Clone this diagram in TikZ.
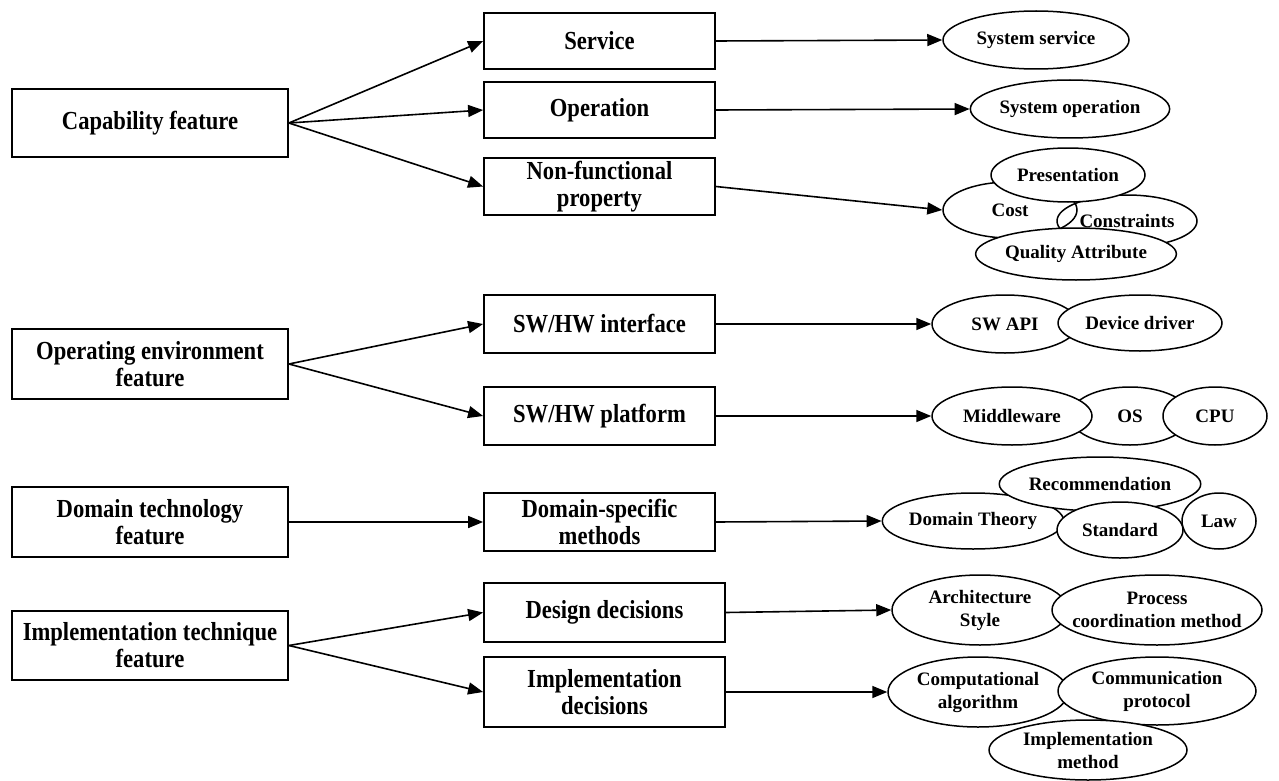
\documentclass[tikz,border=0pt]{standalone}
\usepackage{fontspec}
\setmainfont{Liberation Serif}
\newfontfamily\narrowserif[FakeStretch=0.87]{Liberation Serif}
\usetikzlibrary{arrows.meta,shapes.geometric}

\begin{document}
\begin{tikzpicture}[x=1pt,y=-1pt,
  featbox/.style={draw, line width=1.8pt, rectangle, inner sep=0pt, align=center,
    font=\narrowserif\bfseries\fontsize{26}{27}\selectfont},
  leftbox/.style={featbox, minimum width=276pt},
  midbox/.style={featbox, minimum width=231pt},
  widebox/.style={featbox, minimum width=241pt},
  ell/.style={draw, ellipse, line width=1.5pt, fill=white, inner sep=0pt, align=center,
    font=\bfseries\fontsize{19}{23}\selectfont},
  ellopen/.style={ell, fill=none},
  conn/.style={-{Triangle[length=15pt,width=12pt]}, line width=1.6pt}
]
\useasboundingbox (0,0) rectangle (1279,781);

% feature categories
\node[leftbox, minimum height=68pt] (cap) at (150,123) {Capability feature};
\node[leftbox, minimum height=70pt] (ope) at (150,364) {Operating environment\\feature};
\node[leftbox, minimum height=70pt] (dom) at (150,522) {Domain technology\\feature};
\node[leftbox, minimum height=69pt] (imp) at (150,645.5) {Implementation technique\\feature};

% sub-categories
\node[midbox, minimum height=56pt] (svc) at (599.5,41) {Service};
\node[midbox, minimum height=56pt] (opn) at (599.5,110) {Operation};
\node[midbox, minimum height=57pt] (nfp) at (599.5,186.5) {Non-functional\\property};
\node[midbox, minimum height=58pt] (swi) at (599.5,324) {SW/HW interface};
\node[midbox, minimum height=58pt] (swp) at (599.5,416) {SW/HW platform};
\node[midbox, minimum height=58pt] (dsm) at (599.5,522) {Domain-specific\\methods};
\node[widebox, minimum height=59pt] (dd) at (604.5,612.5) {Design decisions};
\node[widebox, minimum height=70pt] (idc) at (604.5,692) {Implementation\\decisions};

% examples
\node[ell, minimum width=186pt, minimum height=58pt] (sysserv) at (1036,40) {System service};
\node[ell, minimum width=186pt, minimum height=58pt] (sysop) at (1070,109) {System operation};

\node[ellopen, minimum width=134pt, minimum height=56pt] (cost) at (1010,210) {Cost};
\node[ellopen, minimum width=140pt, minimum height=52pt] (constr) at (1127,221) {Constraints};
\node[ell, minimum width=154pt, minimum height=54pt] (pres) at (1068,175) {Presentation};
\node[ell, minimum width=172pt, minimum height=52pt] (qual) at (1076,254) {Quality Attribute};

\node[ell, minimum width=146pt, minimum height=58pt] (swapi) at (1005,324) {SW API};
\node[ell, minimum width=164pt, minimum height=56pt] (devdrv) at (1140,323) {Device driver};

\node[ell, minimum width=120pt, minimum height=58pt] (os) at (1130,416) {OS};
\node[ell, minimum width=160pt, minimum height=58pt] (mw) at (1012,416) {Middleware};
\node[ell, minimum width=104pt, minimum height=58pt] (cpu) at (1215,416) {CPU};

\node[ell, minimum width=74pt, minimum height=56pt] (law) at (1219,521) {Law};
\node[ell, minimum width=176pt, minimum height=56pt] (dtheory) at (973,521) {Domain Theory};
\node[ell, minimum width=194pt, minimum height=54pt] (recom) at (1100,484) {Recommendation};
\node[ell, minimum width=126pt, minimum height=56pt] (std) at (1120,530) {Standard};

\node[ell, minimum width=176pt, minimum height=70pt] (arch) at (980,610) {Architecture\\Style};
% the second line runs almost to the rim, so the shape is kept at its set size
\node[ell, inner xsep=-20pt, minimum width=210pt, minimum height=70pt] (proc) at (1157,610) {Process\\coordination method};

\node[ell, minimum width=180pt, minimum height=70pt] (comp) at (978,692) {Computational\\algorithm};
\node[ell, minimum width=198pt, minimum height=68pt] (comm) at (1157,691) {Communication\\protocol};
\node[ell, minimum width=198pt, minimum height=60pt] (implm) at (1088,750) {Implementation\\method};

% connectors
\draw[conn] (cap.east) -- (svc.west);
\draw[conn] (cap.east) -- (opn.west);
\draw[conn] (cap.east) -- (nfp.west);
\draw[conn] (ope.east) -- (swi.west);
\draw[conn] (ope.east) -- (swp.west);
\draw[conn] (dom.east) -- (dsm.west);
\draw[conn] (imp.east) -- (dd.west);
\draw[conn] (imp.east) -- (idc.west);

\draw[conn] (svc.east) -- (sysserv.west);
\draw[conn] (opn.east) -- (sysop.west);
\draw[conn] (nfp.east) -- (cost.west);
\draw[conn] (swi.east) -- (swapi.west);
\draw[conn] (swp.east) -- (mw.west);
\draw[conn] (dsm.east) -- (dtheory.west);
\draw[conn] (dd.east) -- (arch.west);
\draw[conn] (idc.east) -- (comp.west);
\end{tikzpicture}
\end{document}
